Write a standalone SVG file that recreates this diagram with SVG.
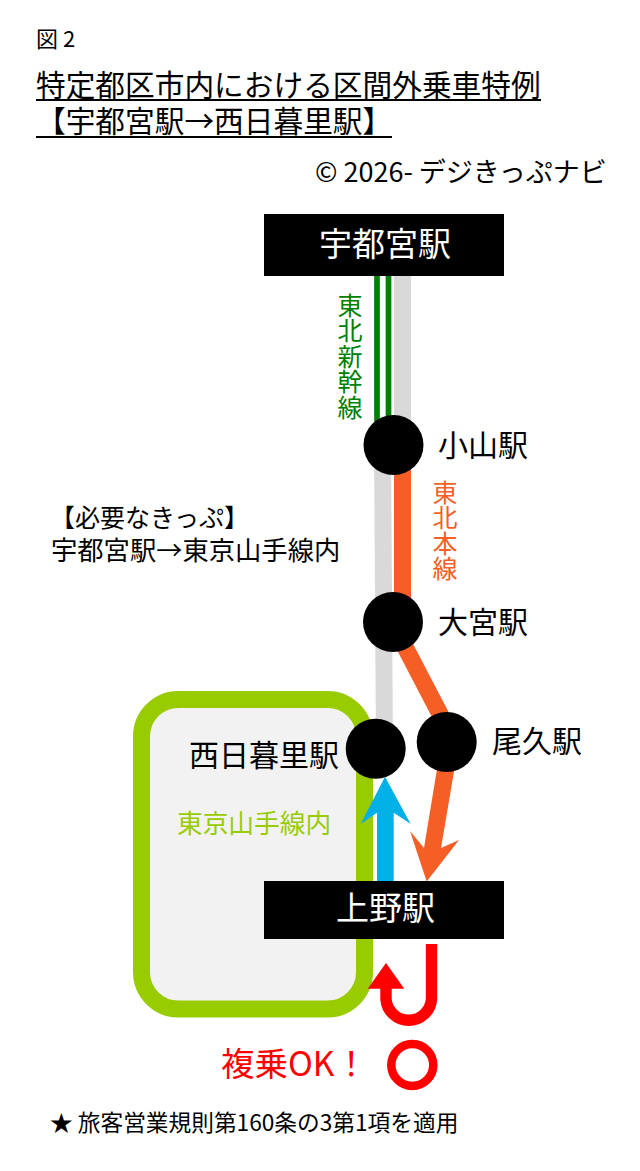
<svg xmlns="http://www.w3.org/2000/svg" width="640" height="1171" viewBox="0 0 640 1171">
<style>
text{font-family:"Noto Sans CJK JP","Noto Sans",sans-serif;fill:#000}
.st{font-size:30px}
.w{fill:#fff}
.m{text-anchor:middle}
.v{font-size:25px;writing-mode:vertical-rl;letter-spacing:.45px}
.box{fill:#000}
.dot{fill:#000}
</style>
<rect width="640" height="1171" fill="#fff"/>
<g id="heading">
<text x="36" y="47" font-size="22">図 2</text>
<text x="36" y="96" font-size="29.7">特定都区市内における区間外乗車特例</text>
<rect x="36" y="99" width="505" height="2"/>
<text x="36" y="132" font-size="29.7">【宇都宮駅→西日暮里駅】</text>
<rect x="36" y="136" width="356" height="2"/>
<text x="315" y="182" font-size="27">© 2026- デジきっぷナビ</text>
</g>
<g id="area-yamanote">
<rect x="141.500" y="699.500" width="223" height="309.500" rx="37" ry="37" fill="#f2f2f2" stroke="#99cc00" stroke-width="17"/>
<text x="177" y="833" font-size="25.700" style="fill:#99cc00">東京山手線内</text>
</g>
<g id="connectors" fill="none">
<path d="M402.500 276V445" stroke="#d9d9d9" stroke-width="17"/>
<path d="M377 276V440M388.500 276V440" stroke="#008000" stroke-width="5.700"/>
<path d="M382.500 445L384.500 750" stroke="#d9d9d9" stroke-width="17"/>
<path d="M402.500 445V630" stroke="#f55f25" stroke-width="17"/>
<path d="M392 622L452 737" stroke="#f55f25" stroke-width="17"/>
<polygon points="441,745 458,748 441,848 459,840 426.700,881.500 410,831 424,848" fill="#f55f25"/>
<polygon points="377,881 377,812.700 360.700,824 385,776.700 410.700,824 393.700,812.700 393.700,881" fill="#00b0e6"/>
<path d="M431.500 944V999A22.800 22.800 0 0 1 386 999V985" stroke="#ff0000" stroke-width="11.400"/>
<polygon points="386,963 404.300,988.700 367.700,988.700" fill="#ff0000"/>
</g>
<g id="node-utsunomiya"><rect class="box" x="264" y="214" width="240" height="62"/><text class="w m" x="385" y="256" font-size="33">宇都宮駅</text></g>
<text id="label-shinkansen" class="v" x="350" y="293" style="fill:#008000">東北新幹線</text>
<g id="node-oyama"><circle class="dot" cx="393.500" cy="445" r="30"/><text class="st" x="438" y="456">小山駅</text></g>
<text id="label-honsen" class="v" x="445" y="480" style="fill:#f55f25">東北本線</text>
<g id="label-ticket">
<text x="50" y="527" font-size="25">【必要なきっぷ】</text>
<text x="51" y="560" font-size="26.300">宇都宮駅→東京山手線内</text>
</g>
<g id="node-omiya"><circle class="dot" cx="393" cy="622" r="30"/><text class="st" x="438" y="633">大宮駅</text></g>
<g id="node-oku"><circle class="dot" cx="446.700" cy="742" r="30"/><text class="st" x="492" y="752">尾久駅</text></g>
<g id="node-nishinippori"><circle class="dot" cx="375.700" cy="748.700" r="30"/><text class="st" x="189" y="766">西日暮里駅</text></g>
<g id="node-ueno"><rect class="box" x="264" y="881" width="240" height="58"/><text class="w m" x="385.500" y="920" font-size="33">上野駅</text></g>
<g id="label-ok">
<text x="221" y="1076" font-size="33.500" style="fill:#ff0000">複乗OK！</text>
<circle cx="412.300" cy="1065" r="21" fill="none" stroke="#ff0000" stroke-width="8.500"/>
</g>
<text id="footnote" x="50" y="1131" font-size="22.700">★ 旅客営業規則第160条の3第1項を適用</text>
</svg>
